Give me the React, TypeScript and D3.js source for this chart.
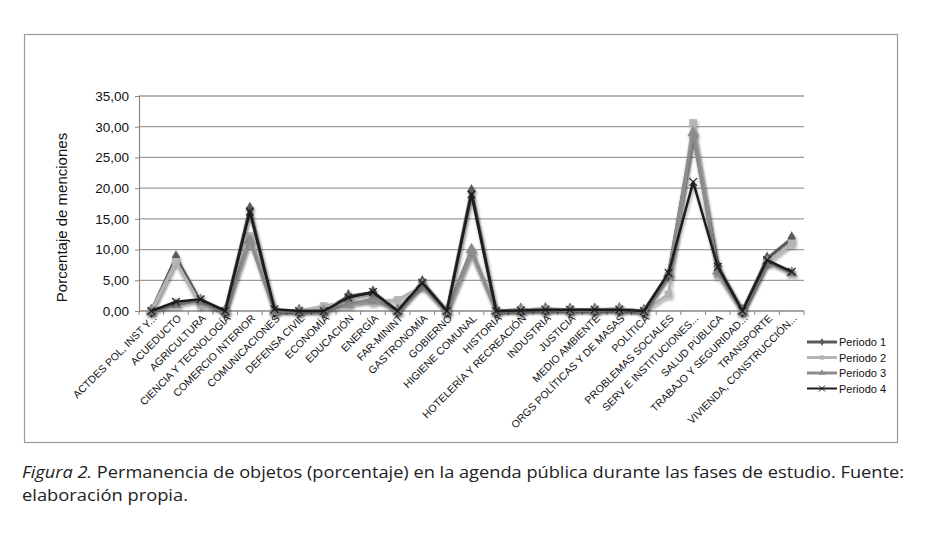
import * as d3 from 'd3';
import { useEffect, useRef } from 'react';

const categories = [
  'ACTDES POL, INST Y...',
  'ACUEDUCTO',
  'AGRICULTURA',
  'CIENCIA Y TECNOLOGÍA',
  'COMERCIO INTERIOR',
  'COMUNICACIONES',
  'DEFENSA CIVIL',
  'ECONOMÍA',
  'EDUCACIÓN',
  'ENERGÍA',
  'FAR-MININT',
  'GASTRONOMÍA',
  'GOBIERNO',
  'HIGIENE COMUNAL',
  'HISTORIA',
  'HOTELERÍA Y RECREACIÓN',
  'INDUSTRIA',
  'JUSTICIA',
  'MEDIO AMBIENTE',
  'ORGS POLÍTICAS Y DE MASAS',
  'POLÍTICA',
  'PROBLEMAS SOCIALES',
  'SERV E INSTITUCIONES...',
  'SALUD PÚBLICA',
  'TRABAJO Y SEGURIDAD...',
  'TRANSPORTE',
  'VIVIENDA, CONSTRUCCIÓN...',
];

const periodo1 = [0, 8.7, 1.5, 0, 16.6, 0, 0, 0, 2.4, 3.0, 0, 4.7, 0, 19.5, 0, 0.2, 0.3, 0.2, 0.2, 0.3, 0, 6.0, 28.8, 7.3, 0, 8.5, 11.8];
const periodo2 = [0, 8.0, 1.0, 0, 12.2, 0, 0, 0.8, 1.5, 1.5, 1.8, 4.0, 0, 9.3, 0, 0.2, 0.3, 0.2, 0.2, 0.3, 0, 2.7, 30.6, 5.9, 0, 7.8, 11.0];
const periodo3 = [0, 1.0, 1.8, 0, 11.5, 0, 0, 0, 1.0, 2.0, 0, 4.2, 0, 10.0, 0, 0.1, 0.2, 0.1, 0.1, 0.2, 0, 6.0, 29.0, 6.5, 0, 8.0, 6.2];
const periodo4 = [0, 1.5, 1.9, 0, 16.2, 0.3, 0, 0, 2.2, 3.1, 0, 4.6, 0, 19.0, 0, 0.1, 0.2, 0.2, 0.2, 0.2, 0, 6.2, 21.0, 7.2, 0, 8.3, 6.4];

const seriesNames = ['Periodo 1', 'Periodo 2', 'Periodo 3', 'Periodo 4'];
const yTicks = [0, 5, 10, 15, 20, 25, 30, 35];

const colors = ['#5a5a5a', '#b4b4b4', '#8c8c8c', '#1c1c1c'];
const symbols = [d3.symbolDiamond, d3.symbolSquare, d3.symbolTriangle, d3.symbolX];

const FONT = 'Liberation Sans, Arial, Helvetica, sans-serif';

export default function App() {
  const svgRef = useRef<SVGSVGElement | null>(null);

  useEffect(() => {
    const width = 929;
    const height = 542;
    const margin = { left: 139, right: 125, top: 96, bottom: 231 };
    const series = [periodo1, periodo2, periodo3, periodo4];

    const svg = d3.select(svgRef.current);
    svg.selectAll('*').remove();
    svg
      .attr('width', width)
      .attr('height', height)
      .attr('font-family', FONT)
      .style('position', 'absolute')
      .style('left', 0)
      .style('top', 0)
      .style('background', '#fff');

    const x = d3
      .scaleBand()
      .domain(categories)
      .range([margin.left, width - margin.right]);
    const y = d3
      .scaleLinear()
      .domain([0, 35])
      .range([height - margin.bottom, margin.top]);

    const defs = svg.append('defs');
    const f = defs.append('filter').attr('id', 'shadow').attr('x', '-20%').attr('y', '-20%').attr('width', '140%').attr('height', '140%');
    f.append('feDropShadow')
      .attr('dx', 1)
      .attr('dy', 2)
      .attr('stdDeviation', 1.5)
      .attr('flood-color', '#000')
      .attr('flood-opacity', 0.35);

    // outer frame
    svg
      .append('rect')
      .attr('x', 24.5)
      .attr('y', 34.5)
      .attr('width', 873)
      .attr('height', 408)
      .attr('fill', 'none')
      .attr('stroke', '#9a9a9a')
      .attr('stroke-width', 1.2);

    // gridlines
    svg
      .append('g')
      .selectAll('line')
      .data(yTicks.slice(1))
      .enter()
      .append('line')
      .attr('x1', margin.left)
      .attr('x2', width - margin.right)
      .attr('y1', (d) => y(d))
      .attr('y2', (d) => y(d))
      .attr('stroke', '#9c9c9c')
      .attr('stroke-width', 1.3);

    // y axis
    const yAxis = svg.append('g').attr('transform', `translate(${margin.left},0)`).call(
      d3
        .axisLeft(y)
        .tickValues(yTicks)
        .tickSize(4)
        .tickPadding(6)
        .tickFormat((d) => d3.format('.2f')(d as number).replace('.', ','))
    );
    yAxis.attr('font-family', FONT);
    yAxis.select('.domain').attr('stroke', '#888').attr('stroke-width', 1.2);
    yAxis.selectAll('.tick line').attr('stroke', '#888');
    yAxis.selectAll('text').attr('font-size', 13.5).attr('fill', '#111');

    // x axis
    const bounds = categories.map((c) => x(c) as number).concat([width - margin.right]);
    const xg = svg.append('g');
    xg.append('line')
      .attr('x1', margin.left)
      .attr('x2', width - margin.right)
      .attr('y1', y(0))
      .attr('y2', y(0))
      .attr('stroke', '#888')
      .attr('stroke-width', 1.3);
    xg.selectAll('line.tk')
      .data(bounds)
      .enter()
      .append('line')
      .attr('class', 'tk')
      .attr('x1', (d) => d)
      .attr('x2', (d) => d)
      .attr('y1', y(0))
      .attr('y2', y(0) + 4)
      .attr('stroke', '#888');
    xg.selectAll('text')
      .data(categories)
      .enter()
      .append('text')
      .attr('transform', (d) => `translate(${(x(d) as number) + x.bandwidth() / 2 + 6},${y(0) + 8}) rotate(-45)`)
      .attr('text-anchor', 'end')
      .attr('font-size', 10.5)
      .attr('fill', '#111')
      .text((d) => d);

    // y title
    svg
      .append('text')
      .attr('transform', `translate(67,${(y(0) + y(35)) / 2 + 14}) rotate(-90)`)
      .attr('text-anchor', 'middle')
      .attr('font-size', 15)
      .attr('fill', '#111')
      .text('Porcentaje de menciones');

    // series
    const cx = (i: number) => (x(categories[i]) as number) + x.bandwidth() / 2;
    series.forEach((vals, s) => {
      const line = d3
        .line<number>()
        .x((_, i) => cx(i))
        .y((d) => y(d));
      const g = svg.append('g').attr('filter', 'url(#shadow)');
      g.append('path')
        .attr('d', line(vals))
        .attr('fill', 'none')
        .attr('stroke', colors[s])
        .attr('stroke-width', s === 3 ? 2.5 : 3.2)
        .attr('stroke-linejoin', 'round');
      const sym = d3.symbol().type(symbols[s]).size(s === 3 ? 40 : 60);
      g.selectAll('path.m')
        .data(vals)
        .enter()
        .append('path')
        .attr('class', 'm')
        .attr('d', sym())
        .attr('transform', (d, i) => `translate(${cx(i)},${y(d)})`)
        .attr('fill', colors[s])
        .attr('stroke', s === 3 ? colors[s] : 'none')
        .attr('stroke-width', 1.2);
    });

    // legend
    const lg = svg.append('g').attr('transform', 'translate(807,342)');
    seriesNames.forEach((name, s) => {
      const row = lg.append('g').attr('transform', `translate(0,${s * 15.5})`);
      row.append('line')
        .attr('x1', 0)
        .attr('x2', 30)
        .attr('y1', 0)
        .attr('y2', 0)
        .attr('stroke', colors[s])
        .attr('stroke-width', s === 3 ? 2 : 3);
      row.append('path')
        .attr('d', d3.symbol().type(symbols[s]).size(s === 3 ? 25 : 18)())
        .attr('transform', 'translate(15,0)')
        .attr('fill', colors[s])
        .attr('stroke', s === 3 ? colors[s] : 'none');
      row.append('text')
        .attr('x', 32)
        .attr('y', 4)
        .attr('font-size', 11)
        .attr('fill', '#111')
        .text(name);
    });

    // caption
    const cap = svg
      .append('text')
      .attr('x', 22)
      .attr('y', 478)
      .attr('font-size', 17)
      .attr('fill', '#222')
      .attr('font-family', 'Open Sans, Noto Sans, sans-serif')
      .attr('textLength', 882)
      .attr('lengthAdjust', 'spacingAndGlyphs');
    cap.append('tspan').attr('font-style', 'italic').text('Figura 2.');
    cap.append('tspan').text(' Permanencia de objetos (porcentaje) en la agenda pública durante las fases de estudio. Fuente:');
    svg
      .append('text')
      .attr('x', 22)
      .attr('y', 501)
      .attr('font-size', 17)
      .attr('fill', '#222')
      .attr('font-family', 'Open Sans, Noto Sans, sans-serif')
      .attr('textLength', 166)
      .attr('lengthAdjust', 'spacingAndGlyphs')
      .text('elaboración propia.');
  }, []);

  return <svg ref={svgRef} />;
}
